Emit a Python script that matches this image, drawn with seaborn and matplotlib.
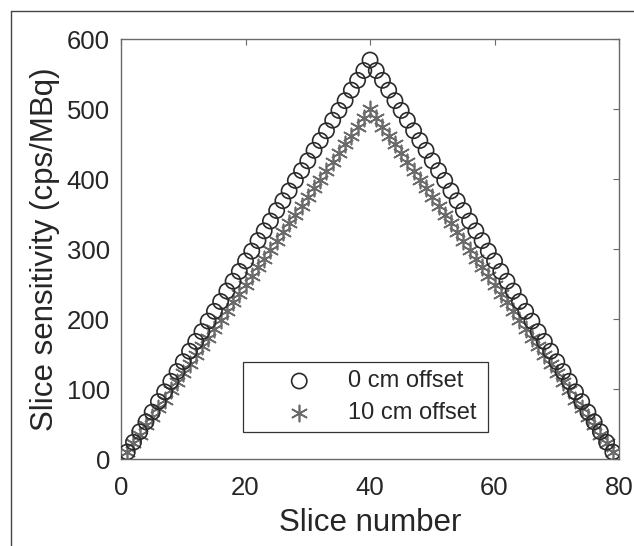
import matplotlib
matplotlib.use('Agg')
import matplotlib.pyplot as plt
import seaborn as sns
from matplotlib.lines import Line2D

# Slice numbers 1..79
slices = list(range(1, 80))

# Sensitivity values (cps/MBq)
offset_0cm = [10, 24, 39, 53, 67, 82, 96, 111, 125, 139,
              154, 168, 182, 197, 211, 225, 240, 254, 268, 283,
              297, 312, 326, 340, 355, 369, 383, 398, 412, 426,
              441, 455, 469, 484, 498, 512, 527, 541, 555, 570,
              555, 541, 527, 512, 498, 484, 469, 455, 441, 426,
              412, 398, 383, 369, 355, 340, 326, 312, 297, 283,
              268, 254, 240, 225, 211, 197, 182, 168, 154, 139,
              125, 111, 96, 82, 67, 53, 39, 24, 10]

offset_10cm = [10, 23, 35, 48, 60, 73, 85, 98, 110, 123,
               136, 148, 161, 173, 186, 198, 211, 224, 236, 249,
               261, 274, 286, 299, 311, 324, 337, 349, 362, 374,
               387, 399, 412, 425, 437, 450, 462, 475, 487, 500,
               487, 475, 462, 450, 437, 425, 412, 399, 387, 374,
               362, 349, 337, 324, 311, 299, 286, 274, 261, 249,
               236, 224, 211, 198, 186, 173, 161, 148, 136, 123,
               110, 98, 85, 73, 60, 48, 35, 23, 10]

series_labels = ['0 cm offset', '10 cm offset']
x_ticks = [0, 20, 40, 60, 80]
y_ticks = [0, 100, 200, 300, 400, 500, 600]

sns.set_style('white')
plt.rcParams['font.family'] = ['Liberation Sans', 'DejaVu Sans']
text_color = '#262626'
spine_color = '#6a6a6a'

fig = plt.figure(figsize=(6.34, 5.46), dpi=100)
ax = fig.add_axes([0.1909, 0.1593, 0.7855, 0.7692])

sns.scatterplot(x=slices, y=offset_0cm, ax=ax, marker='o', s=120,
                facecolors='none', edgecolor='#2a2a2a', linewidth=1.2,
                label=series_labels[0], zorder=3)
sns.scatterplot(x=slices, y=offset_10cm, ax=ax, marker=(6, 2, 0), s=135,
                color='#6a6a6a', linewidth=1.2,
                label=series_labels[1], zorder=2)

ax.set_xlim(0, 80)
ax.set_ylim(0, 600)
ax.set_xticks(x_ticks)
ax.set_yticks(y_ticks)
ax.tick_params(direction='in', length=4, width=0.8, color=spine_color,
               labelsize=18.5, labelcolor=text_color, top=True, right=True)
ax.tick_params(axis='x', pad=12)
ax.tick_params(axis='y', pad=8)
for sp in ax.spines.values():
    sp.set_color(spine_color)
    sp.set_linewidth(1.0)

ax.set_xlabel('Slice number', fontsize=22.5, color=text_color, labelpad=6)
ax.set_ylabel('Slice sensitivity (cps/MBq)', fontsize=22.5, color=text_color,
              labelpad=5)

leg = ax.legend(loc='lower left', bbox_to_anchor=(0.245, 0.064, 0.492, 0.174),
                mode='expand', fontsize=17, frameon=True, fancybox=False,
                framealpha=1, edgecolor='#333333', borderpad=0.33,
                handletextpad=0.0, labelspacing=0.43, borderaxespad=0,
                handlelength=4.1)
leg.get_frame().set_linewidth(0.9)
for t in leg.get_texts():
    t.set_color(text_color)

# thin frame lines around the picture (top and left)
fig.add_artist(Line2D([0.018, 1.0], [0.98, 0.98], transform=fig.transFigure,
                      color='#444444', linewidth=1.0))
fig.add_artist(Line2D([0.018, 0.018], [0.0, 0.98], transform=fig.transFigure,
                      color='#444444', linewidth=1.0))

fig.savefig('out.png', dpi=100)
